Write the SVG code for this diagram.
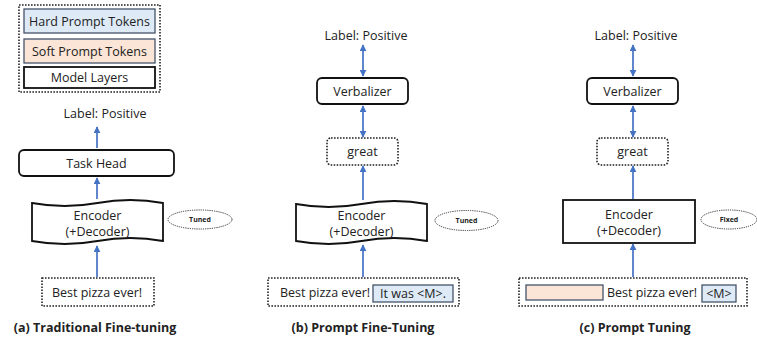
<svg xmlns="http://www.w3.org/2000/svg" width="757" height="340" viewBox="0 0 757 340">
<style>
text{font-family:"Open Sans","Noto Sans","Liberation Sans",sans-serif;fill:#222;}
.t{font-size:12.5px;text-anchor:middle;}
.s{font-size:12.5px;text-anchor:start;}
.title{font-size:12.5px;font-weight:bold;text-anchor:middle;}
.small{font-size:7px;font-weight:bold;text-anchor:middle;}
.dot{fill:none;stroke:#222;stroke-width:1.6;stroke-dasharray:1.6 1.4;}
.dotw{fill:#fff;stroke:#222;stroke-width:1.6;stroke-dasharray:1.6 1.4;}
.layer{fill:#fff;stroke:#111;stroke-width:1.8;}
.hard{fill:#DEEBF7;stroke:#44546A;stroke-width:1.3;}
.soft{fill:#FBE5D6;stroke:#44546A;stroke-width:1.3;}
.ell{fill:#fff;stroke:#333;stroke-width:1;stroke-dasharray:1.2 1;}
.arr{stroke:#4472C4;stroke-width:1.7;fill:none;}
</style>
<defs>
<marker id="ah" viewBox="0 0 10 10" refX="9" refY="5" markerWidth="7" markerHeight="7" orient="auto-start-reverse" markerUnits="userSpaceOnUse">
<path d="M0,0 L10,5 L0,10 z" fill="#4472C4"/>
</marker>
</defs>

<g id="legend">
<rect class="dot" x="19" y="5" width="141" height="87"/>
<rect class="hard" x="24" y="9" width="131" height="24"/>
<text class="t" x="89.5" y="25.5">Hard Prompt Tokens</text>
<rect class="soft" x="24" y="39" width="131" height="24"/>
<text class="t" x="89.5" y="55.5">Soft Prompt Tokens</text>
<rect class="layer" x="24" y="67" width="131" height="21"/>
<text class="t" x="89.5" y="82">Model Layers</text>
</g>

<!-- (a) -->
<g id="a-label"><text class="t" x="105" y="118">Label: Positive</text></g>
<g id="a-taskhead">
<rect class="layer" x="19" y="150" width="155" height="26" rx="5"/>
<text class="t" x="96.5" y="167.5">Task Head</text>
</g>
<g id="a-encoder">
<path class="layer" d="M32,203 Q64.75,209 97.5,203 Q130.25,197 163,203 L163,241 Q130.25,235 97.5,241 Q64.75,247 32,241 Z"/>
<text class="t" x="97.5" y="220">Encoder</text>
<text class="t" x="97.5" y="236">(+Decoder)</text>
</g>
<g id="a-tuned">
<ellipse class="ell" cx="200" cy="219.5" rx="32" ry="9.5"/>
<text class="small" x="200" y="222">Tuned</text>
</g>
<g id="a-input">
<rect class="dot" x="42" y="278" width="112" height="28"/>
<text class="t" x="97" y="297">Best pizza ever!</text>
</g>
<g id="a-title"><text class="title" x="95" y="332">(a) Traditional Fine-tuning</text></g>

<!-- (b) -->
<g id="b-label"><text class="t" x="366" y="40">Label: Positive</text></g>
<g id="b-verbalizer">
<rect class="layer" x="317" y="78" width="91" height="26" rx="5"/>
<text class="t" x="362.5" y="95.5">Verbalizer</text>
</g>
<g id="b-great">
<rect class="dotw" x="327" y="138" width="71" height="27" rx="4"/>
<text class="t" x="362.5" y="156">great</text>
</g>
<g id="b-encoder">
<path class="layer" d="M296,204 Q328.75,210 361.5,204 Q394.25,198 427,204 L427,241 Q394.25,235 361.5,241 Q328.75,247 296,241 Z"/>
<text class="t" x="361.5" y="220">Encoder</text>
<text class="t" x="361.5" y="236">(+Decoder)</text>
</g>
<g id="b-tuned">
<ellipse class="ell" cx="466.5" cy="220.5" rx="31.5" ry="10"/>
<text class="small" x="466.5" y="223">Tuned</text>
</g>
<g id="b-input">
<rect class="dot" x="268" y="278" width="191" height="28"/>
<text class="t" x="325" y="297">Best pizza ever!</text>
<rect class="hard" x="373" y="285" width="80" height="17"/>
<text class="t" x="413" y="297.5">It was &lt;M&gt;.</text>
</g>
<g id="b-title"><text class="title" x="363" y="332">(b) Prompt Fine-Tuning</text></g>

<!-- (c) -->
<g id="c-label"><text class="t" x="636" y="40">Label: Positive</text></g>
<g id="c-verbalizer">
<rect class="layer" x="587" y="78" width="91" height="26" rx="5"/>
<text class="t" x="632.5" y="95.5">Verbalizer</text>
</g>
<g id="c-great">
<rect class="dotw" x="597" y="138" width="71" height="27" rx="4"/>
<text class="t" x="632.5" y="156">great</text>
</g>
<g id="c-encoder">
<rect class="layer" x="563" y="200" width="132" height="43"/>
<text class="t" x="629" y="219">Encoder</text>
<text class="t" x="629" y="235">(+Decoder)</text>
</g>
<g id="c-fixed">
<ellipse class="ell" cx="729" cy="219.5" rx="28" ry="9.5"/>
<text class="small" x="729" y="222">Fixed</text>
</g>
<g id="c-input">
<rect class="dot" x="519" y="278" width="228" height="28"/>
<rect class="soft" x="526" y="285" width="77" height="15"/>
<text class="t" x="652" y="297">Best pizza ever!</text>
<rect class="hard" x="702" y="285" width="34" height="17"/>
<text class="t" x="719" y="297.5">&lt;M&gt;</text>
</g>
<g id="c-title"><text class="title" x="635" y="332">(c) Prompt Tuning</text></g>

<g id="connectors">
<line class="arr" x1="97" y1="148" x2="97" y2="127" marker-end="url(#ah)"/>
<line class="arr" x1="97" y1="199" x2="97" y2="178" marker-end="url(#ah)"/>
<line class="arr" x1="97" y1="277" x2="97" y2="246" marker-end="url(#ah)"/>
<line class="arr" x1="363" y1="45" x2="363" y2="76" marker-start="url(#ah)" marker-end="url(#ah)"/>
<line class="arr" x1="363" y1="106" x2="363" y2="137" marker-start="url(#ah)" marker-end="url(#ah)"/>
<line class="arr" x1="363" y1="200" x2="363" y2="166" marker-end="url(#ah)"/>
<line class="arr" x1="363" y1="277" x2="363" y2="245" marker-end="url(#ah)"/>
<line class="arr" x1="633" y1="45" x2="633" y2="76" marker-start="url(#ah)" marker-end="url(#ah)"/>
<line class="arr" x1="633" y1="106" x2="633" y2="137" marker-start="url(#ah)" marker-end="url(#ah)"/>
<line class="arr" x1="633" y1="199" x2="633" y2="166" marker-end="url(#ah)"/>
<line class="arr" x1="633" y1="277" x2="633" y2="244" marker-end="url(#ah)"/>
</g>
</svg>
